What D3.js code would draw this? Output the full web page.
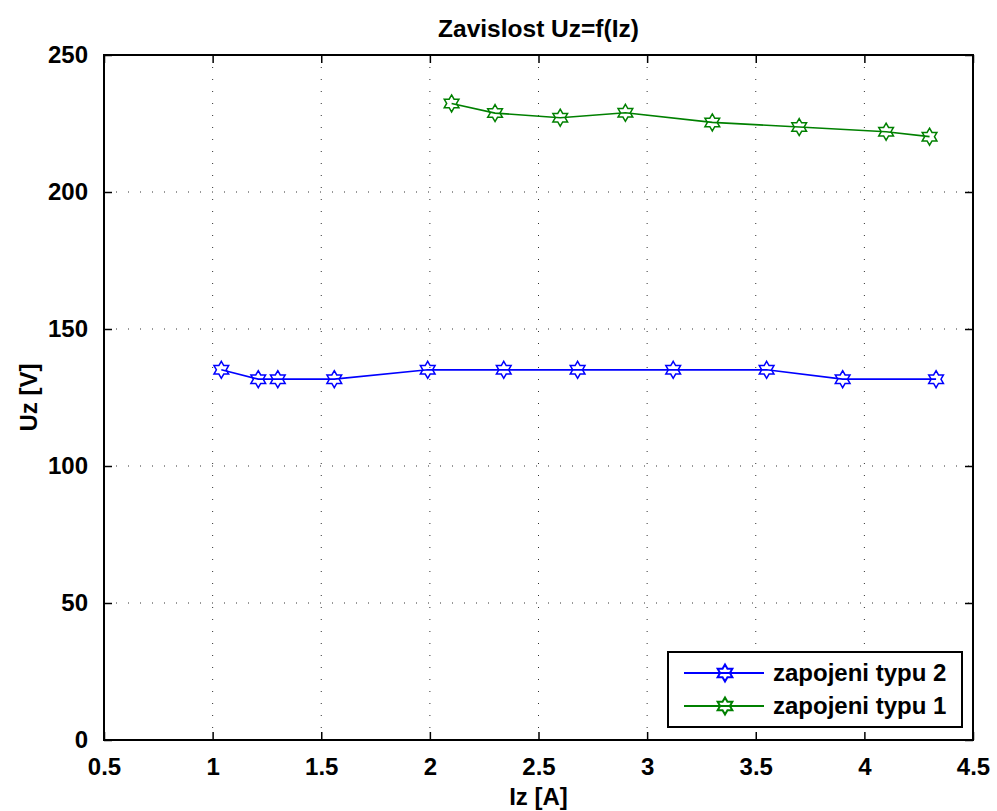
<!DOCTYPE html>
<html>
<head>
<meta charset="utf-8">
<script src="https://cdn.jsdelivr.net/npm/d3@7"></script>
<style>
  html, body { margin: 0; padding: 0; background: #fff; }
  svg text { font-family: "Liberation Sans", Arial, Helvetica, sans-serif; font-weight: bold; fill: #000; }
</style>
</head>
<body>
<svg id="chart" width="997" height="811"></svg>
<script>
// Measured load current Iz [A] and voltage Uz [V] for the two connection types
const izTyp2 = [1.04, 1.21, 1.30, 1.56, 1.99, 2.34, 2.68, 3.12, 3.55, 3.90, 4.33];
const uzTyp2 = [135.1, 131.7, 131.7, 131.7, 135.1, 135.1, 135.1, 135.1, 135.1, 131.7, 131.7];
const izTyp1 = [2.1, 2.3, 2.6, 2.9, 3.3, 3.7, 4.1, 4.3];
const uzTyp1 = [232.3, 228.8, 227.1, 228.9, 225.4, 223.7, 222.0, 220.2];

const xTicks = [0.5, 1, 1.5, 2, 2.5, 3, 3.5, 4, 4.5];
const yTicks = [0, 50, 100, 150, 200, 250];

const seriesNames = ["zapojeni typu 2", "zapojeni typu 1"];
const seriesColors = ["#0000ff", "#008000"];

const titleText = "Zavislost Uz=f(Iz)";
const xLabel = "Iz [A]";
const yLabel = "Uz [V]";

const margin = { left: 104, top: 55, right: 24, bottom: 71 };
const W = 997, H = 811;
const pw = W - margin.left - margin.right;
const ph = H - margin.top - margin.bottom;

const svg = d3.select("#chart");
const g = svg.append("g").attr("transform", `translate(${margin.left},${margin.top})`);

const x = d3.scaleLinear().domain([0.5, 4.5]).range([0, pw]);
const y = d3.scaleLinear().domain([0, 250]).range([ph, 0]);

// dotted grid
const grid = g.append("g").attr("class", "grid");
grid.selectAll("line.vx").data(xTicks.slice(1, -1)).join("line")
  .attr("x1", d => x(d)).attr("x2", d => x(d))
  .attr("y1", 0).attr("y2", ph)
  .attr("stroke", "#333").attr("stroke-width", 1).attr("stroke-dasharray", "1,11");
grid.selectAll("line.hy").data(yTicks.slice(1, -1)).join("line")
  .attr("y1", d => y(d)).attr("y2", d => y(d))
  .attr("x1", 0).attr("x2", pw)
  .attr("stroke", "#333").attr("stroke-width", 1).attr("stroke-dasharray", "1,11");

// axes with inward ticks on all four sides
const tickLen = 8;
const fmt = d => String(d);
const axB = g.append("g").attr("transform", `translate(0,${ph})`)
  .call(d3.axisBottom(x).tickValues(xTicks).tickFormat(fmt).tickSizeInner(-tickLen).tickSizeOuter(0).tickPadding(18));
const axT = g.append("g")
  .call(d3.axisTop(x).tickValues(xTicks).tickFormat("").tickSizeInner(-tickLen).tickSizeOuter(0));
const axL = g.append("g")
  .call(d3.axisLeft(y).tickValues(yTicks).tickFormat(fmt).tickSizeInner(-tickLen).tickSizeOuter(0).tickPadding(16));
const axR = g.append("g").attr("transform", `translate(${pw},0)`)
  .call(d3.axisRight(y).tickValues(yTicks).tickFormat("").tickSizeInner(-tickLen).tickSizeOuter(0));

[axB, axT, axL, axR].forEach(a => {
  a.select(".domain").remove();
  a.selectAll(".tick line").attr("stroke", "#000").attr("stroke-width", 1.5);
  a.selectAll("text").style("font-size", "24px").attr("fill", "#000");
});
axB.selectAll("text").attr("dy", "0.71em");

// plot frame
g.append("rect").attr("x", 0).attr("y", 0).attr("width", pw).attr("height", ph)
  .attr("fill", "none").attr("stroke", "#000").attr("stroke-width", 2);

// six-pointed star marker path
function hexagram(r) {
  const ri = r / Math.sqrt(3);
  const pts = [];
  for (let i = 0; i < 12; i++) {
    const a = -Math.PI / 2 + i * Math.PI / 6;
    const rr = i % 2 === 0 ? r : ri;
    pts.push([rr * Math.cos(a), rr * Math.sin(a)]);
  }
  return "M" + pts.map(p => p[0].toFixed(2) + "," + p[1].toFixed(2)).join("L") + "Z";
}
const starPath = hexagram(8.5);

const series = [
  { name: seriesNames[0], color: seriesColors[0], xs: izTyp2, ys: uzTyp2 },
  { name: seriesNames[1], color: seriesColors[1], xs: izTyp1, ys: uzTyp1 }
];

const line = d3.line().x(d => x(d[0])).y(d => y(d[1]));
series.forEach(s => {
  const pts = s.xs.map((v, i) => [v, s.ys[i]]);
  g.append("path").datum(pts).attr("d", line)
    .attr("fill", "none").attr("stroke", s.color).attr("stroke-width", 1.6);
  g.selectAll(null).data(pts).join("path")
    .attr("transform", d => `translate(${x(d[0])},${y(d[1])})`)
    .attr("d", starPath)
    .attr("fill", "none").attr("stroke", s.color).attr("stroke-width", 1.5);
});

// title and axis labels
svg.append("text").attr("x", margin.left + pw / 2).attr("y", 37)
  .attr("text-anchor", "middle").style("font-size", "24.5px").text(titleText);
svg.append("text").attr("x", margin.left + pw / 2).attr("y", 805)
  .attr("text-anchor", "middle").style("font-size", "24px").text(xLabel);
svg.append("text").attr("transform", `translate(37,${margin.top + ph / 2}) rotate(-90)`)
  .attr("text-anchor", "middle").style("font-size", "24px").text(yLabel);

// legend
const lg = svg.append("g").attr("transform", "translate(668,652)");
lg.append("rect").attr("x", 0).attr("y", 0).attr("width", 294).attr("height", 75)
  .attr("fill", "#fff").attr("stroke", "#000").attr("stroke-width", 2);
series.forEach((s, i) => {
  const yy = 21 + i * 33;
  lg.append("line").attr("x1", 16).attr("x2", 96).attr("y1", yy).attr("y2", yy)
    .attr("stroke", s.color).attr("stroke-width", 2);
  lg.append("path").attr("transform", `translate(57,${yy})`).attr("d", starPath)
    .attr("fill", "none").attr("stroke", s.color).attr("stroke-width", 2);
  lg.append("text").attr("x", 105).attr("y", yy).attr("dy", "0.35em")
    .style("font-size", "24px").text(s.name);
});
</script>
</body>
</html>
